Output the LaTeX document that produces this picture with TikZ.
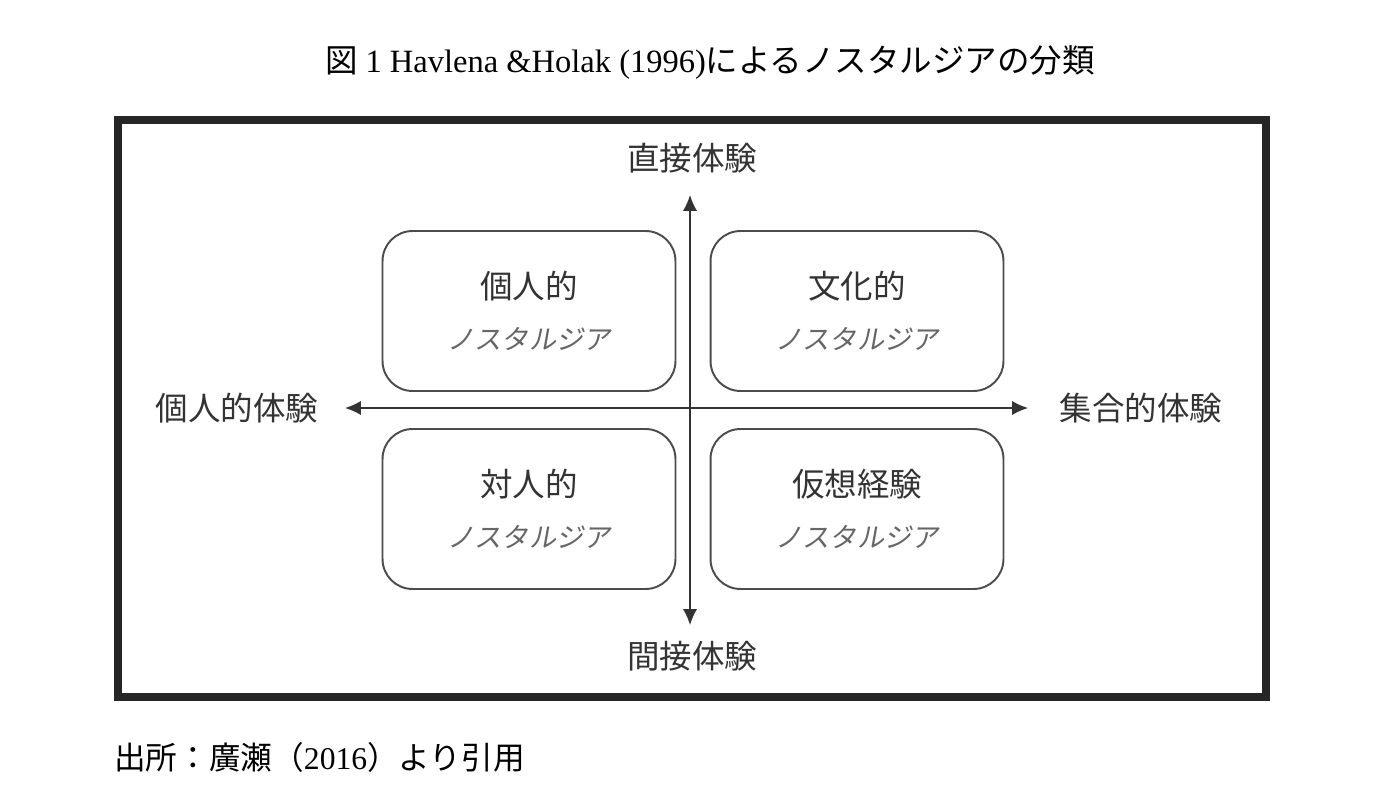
\documentclass[tikz,border=0pt]{standalone}
\usepackage{fontspec}
\setmainfont{Liberation Serif}
\newfontfamily\cjk{Noto Sans CJK JP}
\newfontfamily\cjkslant[FakeSlant=0.18]{Noto Sans CJK JP}
\usetikzlibrary{arrows.meta}
\begin{document}
\begin{tikzpicture}[x=0.02cm, y=-0.02cm,
    quad/.style = {draw=black!70, line width=1.1pt, rounded corners=0.6cm,
                   minimum width=5.86cm, minimum height=3.2cm, align=center,
                   font=\cjk\fontsize{18.5}{29}\selectfont, text=black!80},
    axislabel/.style = {font=\cjk\fontsize{18.5}{22}\selectfont, text=black!80},
    axis/.style = {draw=black!80, line width=0.8pt, {Latex[length=9pt,width=8pt]}-{Latex[length=9pt,width=8pt]}}]
    \useasboundingbox (0,0) rectangle (1393,801);
    \node (title) at (710,62) {\fontsize{18.5}{22}\selectfont{\cjk 図} 1 Havlena \&Holak (1996){\cjk によるノスタルジアの分類}};
    \draw[line width=4.5pt, black!85] (118,120) rectangle (1266,697);
    % quadrants
    \node[quad] (personal) at (529,311) {個人的\\{\cjkslant\fontsize{15.5}{18}\selectfont\color{black!60}ノスタルジア}};
    \node[quad] (cultural) at (857,311) {文化的\\{\cjkslant\fontsize{15.5}{18}\selectfont\color{black!60}ノスタルジア}};
    \node[quad] (interpersonal) at (529,509) {対人的\\{\cjkslant\fontsize{15.5}{18}\selectfont\color{black!60}ノスタルジア}};
    \node[quad] (virtual) at (857,509) {仮想経験\\{\cjkslant\fontsize{15.5}{18}\selectfont\color{black!60}ノスタルジア}};
    % axes
    \node[axislabel] (direct) at (692,158) {直接体験};
    \node[axislabel] (indirect) at (692,656) {間接体験};
    \node[axislabel] (individual) at (237,408) {個人的体験};
    \node[axislabel] (collective) at (1141,408) {集合的体験};
    \coordinate (up) at (690,195);
    \coordinate (down) at (690,625);
    \coordinate (left) at (345,408);
    \coordinate (right) at (1028,408);
    \draw[axis] (down) -- (up);
    \draw[axis] (left) -- (right);
    \node[anchor=west] (source) at (108,757) {\fontsize{18}{22}\selectfont{\cjk 出所：廣瀬（}2016{\cjk ）より引用}};
\end{tikzpicture}
\end{document}
